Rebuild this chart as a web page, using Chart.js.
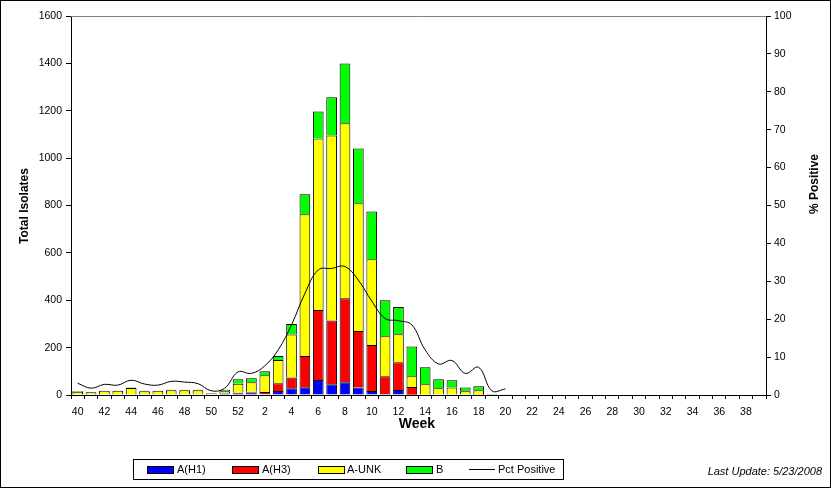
<!DOCTYPE html>
<html>
<head>
<meta charset="utf-8">
<script src="https://cdn.jsdelivr.net/npm/chart.js@4"></script>
<style>
  body { margin: 0; background: #fff; }
  canvas { display: block; }
</style>
</head>
<body>
<canvas id="fluChart" width="831" height="488"></canvas>
<script>
// weeks 40-52 then 1-39
const weeks = ['40','41','42','43','44','45','46','47','48','49','50','51','52',
  '1','2','3','4','5','6','7','8','9','10','11','12','13','14','15','16','17','18','19','20',
  '21','22','23','24','25','26','27','28','29','30','31','32','33','34','35','36','37','38','39'];

const aH1 = [0,0,0,0,0,0,0,0,0,0,0,6,7,
  10,3,17,28,33,63,45,54,32,17,4,21,1,0,0,0,0,0,0,0,
  0,0,0,0,0,0,0,0,0,0,0,0,0,0,0,0,0,0,0];
const aH3 = [0,0,0,0,0,0,0,0,0,0,0,1,2,
  4,10,33,46,132,296,270,354,238,194,75,117,33,2,2,2,0,1,0,0,
  0,0,0,0,0,0,0,0,0,0,0,0,0,0,0,0,0,0,0];
const aUnk = [14,12,18,18,30,16,18,20,20,20,6,9,39,
  40,70,98,181,598,724,781,739,539,362,169,118,45,43,26,30,16,19,2,2,
  0,0,0,0,0,0,0,0,0,0,0,0,0,0,0,0,0,0,0];
const fluB = [3,0,0,0,2,2,0,2,2,2,2,6,18,
  17,17,17,45,84,114,161,253,232,202,152,115,126,72,38,30,16,17,2,1,
  0,0,0,0,0,0,0,0,0,0,0,0,0,0,0,0,0,0,0];
const pctPositive = [3.1,1.8,2.8,2.6,3.9,2.9,2.6,3.6,3.4,3.0,1.1,1.8,6.1,
  5.7,7.7,11.9,18.5,26.8,33.0,33.4,33.9,30.3,24.8,20.2,19.6,18.5,11.9,8.2,9.1,5.7,7.3,1.1,1.6,
  null,null,null,null,null,null,null,null,null,null,null,null,null,null,null,null,null,null,null];

const FONT = '"Liberation Sans", Arial, sans-serif';

function barSet(label, data, color) {
    return {
        type: 'bar',
        label: label,
        data: data,
        backgroundColor: color,
        borderColor: '#000',
        borderWidth: 1,
        yAxisID: 'y',
        order: 1,
        barPercentage: 0.8,
        categoryPercentage: 1.0
    };
}

// titles, legend box, footnote and frame
const decorations = {
    id: 'decorations',
    beforeDatasetsDraw(chart) {
        const { ctx, chartArea } = chart;
        ctx.save();
        ctx.strokeStyle = '#808080';
        ctx.lineWidth = 1;
        ctx.beginPath();
        ctx.moveTo(chartArea.left, chartArea.top + 0.5);
        ctx.lineTo(chartArea.right, chartArea.top + 0.5);
        ctx.stroke();
        ctx.restore();
    },
    afterDraw(chart) {
        const ctx = chart.ctx;
        ctx.save();
        ctx.fillStyle = '#000';
        ctx.textAlign = 'center';
        ctx.textBaseline = 'middle';

        ctx.font = 'bold 12px ' + FONT;
        ctx.save();
        ctx.translate(25, 206);
        ctx.rotate(-Math.PI / 2);
        ctx.fillText('Total Isolates', 0, 0);
        ctx.restore();

        ctx.save();
        ctx.translate(815, 184);
        ctx.rotate(-Math.PI / 2);
        ctx.fillText('% Positive', 0, 0);
        ctx.restore();

        ctx.font = 'bold 14px ' + FONT;
        ctx.fillText('Week', 417, 424);

        // legend
        ctx.lineWidth = 1;
        ctx.strokeStyle = '#000';
        ctx.strokeRect(133.5, 459.5, 430, 20);
        const items = [
            { x: 147, textX: 177 },
            { x: 232, textX: 262 },
            { x: 318, textX: 347 },
            { x: 406, textX: 436 },
            { x: 469, textX: 498 }
        ];
        ctx.font = '11px ' + FONT;
        ctx.textAlign = 'left';
        chart.data.datasets.forEach((ds, i) => {
            const it = items[i];
            if (ds.type === 'line') {
                ctx.beginPath();
                ctx.moveTo(it.x, 469.5);
                ctx.lineTo(it.x + 26, 469.5);
                ctx.stroke();
            } else {
                ctx.fillStyle = ds.backgroundColor;
                ctx.fillRect(it.x, 466, 26, 7);
                ctx.strokeRect(it.x + 0.5, 466.5, 26, 7);
            }
            ctx.fillStyle = '#000';
            ctx.fillText(ds.label, it.textX, 470);
        });

        ctx.font = 'italic 11px ' + FONT;
        ctx.textAlign = 'right';
        ctx.fillText('Last Update: 5/23/2008', 822, 472);

        ctx.strokeRect(0.5, 0.5, 830, 487);
        ctx.restore();
    }
};

const tickFont = { family: FONT, size: 10.5 };

new Chart(document.getElementById('fluChart'), {
    data: {
        labels: weeks,
        datasets: [
            barSet('A(H1)', aH1, '#0000ff'),
            barSet('A(H3)', aH3, '#ff0000'),
            barSet('A-UNK', aUnk, '#ffff00'),
            barSet('B', fluB, '#00ff00'),
            {
                type: 'line',
                label: 'Pct Positive',
                data: pctPositive,
                borderColor: '#000',
                borderWidth: 1,
                pointRadius: 0,
                tension: 0.4,
                fill: false,
                spanGaps: false,
                yAxisID: 'y1',
                order: 0
            }
        ]
    },
    options: {
        responsive: false,
        animation: false,
        layout: { padding: { top: 16, left: 0, right: 0, bottom: 0 } },
        plugins: {
            legend: { display: false },
            tooltip: { enabled: false }
        },
        scales: {
            x: {
                stacked: true,
                offset: true,
                grid: { offset: true, drawOnChartArea: false, drawTicks: true, tickLength: 4, color: '#000' },
                border: { color: '#000' },
                ticks: {
                    autoSkip: false,
                    maxRotation: 0,
                    padding: 7,
                    color: '#000',
                    font: tickFont,
                    callback: (v, i) => (i % 2 === 0 ? weeks[i] : '')
                },
                afterFit: s => { s.height = 93; }
            },
            y: {
                stacked: true,
                min: 0,
                max: 1600,
                grid: { drawOnChartArea: false, drawTicks: true, tickLength: 5, color: '#000' },
                border: { color: '#000' },
                ticks: { stepSize: 200, padding: 4, color: '#000', font: tickFont, callback: v => String(v) },
                afterFit: s => { s.width = 71; }
            },
            y1: {
                position: 'right',
                min: 0,
                max: 100,
                grid: { drawOnChartArea: false, drawTicks: true, tickLength: 5, color: '#000' },
                border: { color: '#000' },
                ticks: { stepSize: 10, padding: 3, color: '#000', font: tickFont, callback: v => String(v) },
                afterFit: s => { s.width = 65; }
            }
        }
    },
    plugins: [decorations]
});
</script>
</body>
</html>
